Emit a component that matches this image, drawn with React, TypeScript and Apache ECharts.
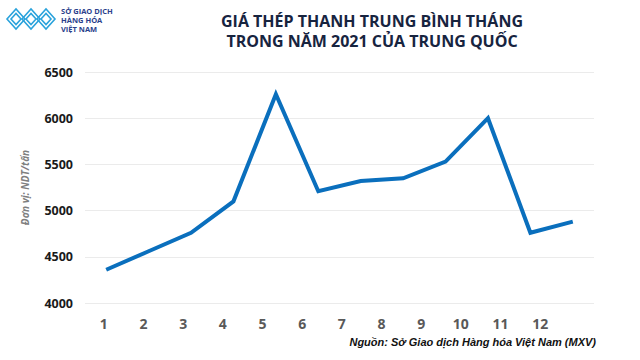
import React, { useEffect, useRef } from "react";
import * as echarts from "echarts";

const months = ["1", "2", "3", "4", "5", "6", "7", "8", "9", "10", "11", "12"];
const prices = [4360, 4560, 4760, 5100, 6260, 5210, 5320, 5350, 5530, 6000, 4760, 4880];
const yMin = 4000;
const yMax = 6500;
const yStep = 500;
const titleText = "GIÁ THÉP THANH TRUNG BÌNH THÁNG\nTRONG NĂM 2021 CỦA TRUNG QUỐC";
const unitText = "Đơn vị: NDT/tấn";
const sourceText = "Nguồn: Sở Giao dịch Hàng hóa Việt Nam (MXV)";
const logoLines = ["SỞ GIAO DỊCH", "HÀNG HÓA", "VIỆT NAM"];

export default function App() {
  const ref = useRef<HTMLDivElement>(null);
  useEffect(() => {
    if (!ref.current) return;
    const chart = echarts.init(ref.current, null, { renderer: "svg" });
    const logoBlue = "#2aa3dc";
    const diamond = (cx: number, cy: number, rx: number, ry: number) => ({
      type: "polygon",
      shape: { points: [[cx - rx, cy], [cx, cy - ry], [cx + rx, cy], [cx, cy + ry]] },
      style: { fill: "none", stroke: logoBlue, lineWidth: 1.6 },
    });
    const logoShapes: any[] = [];
    [16, 31, 46].forEach((cx) => {
      logoShapes.push(diamond(cx, 19, 9, 10));
      logoShapes.push(diamond(cx, 19, 5, 5.5));
    });
    chart.setOption({
      animation: false,
      backgroundColor: "#ffffff",
      title: {
        text: titleText,
        left: 367,
        top: 6,
        textAlign: "center",
        textStyle: {
          fontFamily: "Open Sans",
          fontWeight: "bold",
          fontSize: 16,
          lineHeight: 20,
          color: "#17243f",
        },
      },
      grid: [
        { left: 85, right: 46, top: 72, height: 231 },
        { left: 84, width: 476, top: 72, height: 231 },
      ],
      xAxis: [
        {
          type: "category",
          gridIndex: 0,
          data: months,
          boundaryGap: true,
          axisLine: { show: false },
          axisTick: { show: false },
          axisLabel: { show: false },
        },
        {
          type: "category",
          gridIndex: 1,
          data: months,
          boundaryGap: true,
          axisLine: { show: false },
          axisTick: { show: false },
          axisLabel: {
            margin: 13,
            fontFamily: "Open Sans",
            fontWeight: "bold",
            fontSize: 14,
            color: "#595959",
          },
        },
      ],
      yAxis: [
        {
          type: "value",
          gridIndex: 0,
          min: yMin,
          max: yMax,
          interval: yStep,
          name: unitText,
          nameLocation: "middle",
          nameGap: 55,
          nameTextStyle: {
            fontFamily: "Open Sans",
            fontStyle: "italic",
            fontWeight: "bold",
            fontSize: 10,
            color: "#7f7f7f",
          },
          axisLine: { show: false },
          axisTick: { show: false },
          axisLabel: {
            margin: 12,
            fontFamily: "Open Sans",
            fontWeight: "bold",
            fontSize: 12.5,
            color: "#1a1a1a",
            formatter: (v: number) => String(v),
          },
          splitLine: { lineStyle: { color: "#ebebeb", width: 1 } },
        },
        {
          type: "value",
          gridIndex: 1,
          min: yMin,
          max: yMax,
          interval: yStep,
          show: false,
          splitLine: { show: false },
        },
      ],
      series: [
        {
          type: "line",
          xAxisIndex: 0,
          yAxisIndex: 0,
          data: prices,
          symbol: "none",
          lineStyle: { color: "#0a6fbd", width: 4, join: "miter" },
        },
      ],
      graphic: [
        ...logoShapes,
        ...logoLines.map((t, i) => ({
          type: "text",
          left: 61,
          top: 7 + i * 9,
          style: {
            text: t,
            fontFamily: "Open Sans",
            fontSize: 7.5,
            fontWeight: "bold",
            fill: "#2b3f8c",
          },
        })),
        {
          type: "text",
          right: 44,
          top: 336,
          style: {
            text: sourceText,
            fontFamily: "Liberation Sans",
            fontStyle: "italic",
            fontWeight: "bold",
            fontSize: 11,
            fill: "#111111",
          },
        },
      ],
    });
    return () => chart.dispose();
  }, []);
  return (
    <div
      ref={ref}
      style={{ position: "fixed", left: 0, top: 0, width: 640, height: 360 }}
    />
  );
}
